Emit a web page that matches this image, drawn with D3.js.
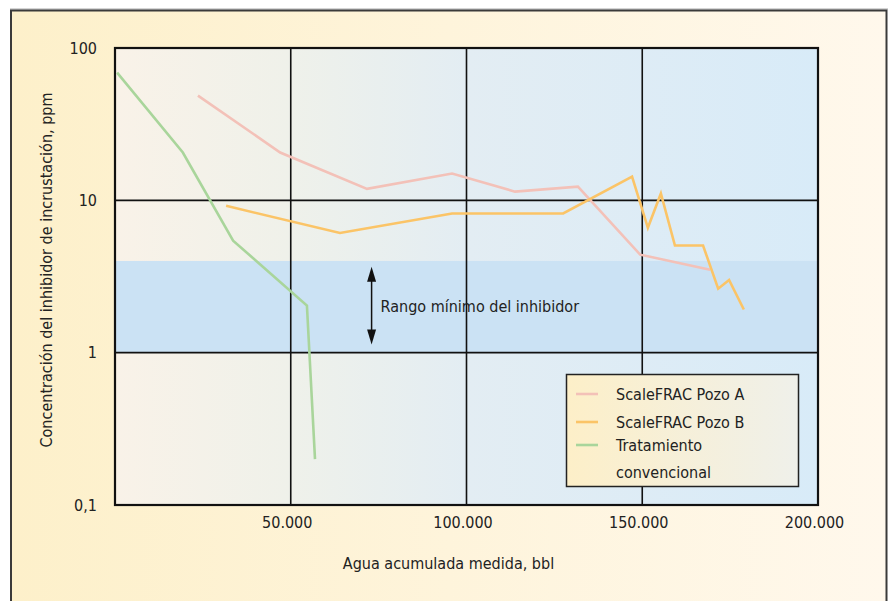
<!DOCTYPE html>
<html><head><meta charset="utf-8">
<script src="https://cdn.jsdelivr.net/npm/d3@7"></script>
<style>
html,body{margin:0;padding:0;background:#fff;}
svg text{font-family:"Liberation Sans Narrow","DejaVu Sans Condensed","Arial Narrow",sans-serif;fill:#222;}
</style></head>
<body><svg id="c" width="892" height="601"></svg>
<script>
// ---- data ----
const pozoA_x = [23600, 47000, 71700, 95900, 113800, 131700, 149400, 169300];
const pozoA_y = [48.7, 20.6, 11.9, 15.0, 11.4, 12.3, 4.4, 3.5];
const pozoB_x = [31600, 64000, 95900, 127500, 147100, 151600, 155300, 159300, 167300, 171600, 174700, 178900];
const pozoB_y = [9.2, 6.1, 8.2, 8.2, 14.3, 6.6, 11.1, 5.05, 5.05, 2.63, 3.0, 1.92];
const conv_x = [600, 19300, 33600, 54600, 56900];
const conv_y = [68.9, 20.6, 5.44, 2.04, 0.2];
const seriesNames = ["ScaleFRAC Pozo A", "ScaleFRAC Pozo B", "Tratamiento convencional"];
const seriesColors = ["#f3c1b8", "#fbc467", "#a9d59b"];
const xTicks = [50000, 100000, 150000, 200000];
const xTickLabels = ["50.000", "100.000", "150.000", "200.000"];
const yTicks = [0.1, 1, 10, 100];
const yTickLabels = ["0,1", "1", "10", "100"];
const bandRange = [1, 4];
const bandLabel = "Rango mínimo del inhibidor";
const arrowX = 73000;
const arrowRange = [3.67, 1.13];
const xTitle = "Agua acumulada medida, bbl";
const yTitle = "Concentración del inhibidor de incrustación, ppm";

// ---- layout ----
const svg = d3.select("#c");
const L = 115, R = 818, T = 48, B = 505;
const x = d3.scaleLinear().domain([0, 200000]).range([L, R]);
const y = d3.scaleLog().domain([0.1, 100]).range([B, T]);

const defs = svg.append("defs");
const g1 = defs.append("linearGradient").attr("id","outerBg");
g1.append("stop").attr("offset","0%").attr("stop-color","#fdf0ca");
g1.append("stop").attr("offset","100%").attr("stop-color","#fff8ec");
const g2 = defs.append("linearGradient").attr("id","plotBg");
g2.append("stop").attr("offset","0%").attr("stop-color","#f9f2e8");
g2.append("stop").attr("offset","25%").attr("stop-color","#eff1ea");
g2.append("stop").attr("offset","50%").attr("stop-color","#e3edf3");
g2.append("stop").attr("offset","100%").attr("stop-color","#d8ebf8");
const g3 = defs.append("linearGradient").attr("id","legBg");
g3.append("stop").attr("offset","0%").attr("stop-color","#fdefc8");
g3.append("stop").attr("offset","100%").attr("stop-color","#eff0ea");

// outer frame
svg.append("rect").attr("x",0).attr("y",0).attr("width",892).attr("height",601).attr("fill","#fff");
svg.append("line").attr("x1",10).attr("x2",888).attr("y1",9).attr("y2",9).attr("stroke","#aaa").attr("stroke-width",1);
svg.append("rect").attr("x",11).attr("y",10.5).attr("width",875.5).attr("height",620)
  .attr("fill","url(#outerBg)").attr("stroke","#3a3a3a").attr("stroke-width",2);

// plot background
svg.append("rect").attr("x",L).attr("y",T).attr("width",R-L).attr("height",B-T).attr("fill","url(#plotBg)");
// band
svg.append("rect").attr("x",L).attr("y",y(bandRange[1])).attr("width",R-L)
  .attr("height",y(bandRange[0])-y(bandRange[1])).attr("fill","#cbe2f4");

// grid
const grid = svg.append("g").attr("stroke","#111").attr("stroke-width",1.6);
xTicks.forEach(v => grid.append("line").attr("x1",x(v)).attr("x2",x(v)).attr("y1",T).attr("y2",B));
yTicks.forEach(v => grid.append("line").attr("x1",L).attr("x2",R).attr("y1",y(v)).attr("y2",y(v)));
svg.append("rect").attr("x",L).attr("y",T).attr("width",R-L).attr("height",B-T)
  .attr("fill","none").attr("stroke","#111").attr("stroke-width",2.2);

// axes labels
const xAxis = d3.axisBottom(x).tickValues(xTicks).tickSize(0).tickPadding(12)
  .tickFormat((d,i)=>xTickLabels[i]);
const gx = svg.append("g").attr("transform",`translate(0,${B})`).call(xAxis);
gx.select(".domain").remove();
gx.selectAll("text").attr("font-size",16).attr("fill","#222").attr("dx",-4)
  .attr("font-family",'"Liberation Sans Narrow","DejaVu Sans Condensed",sans-serif');
const yAxis = d3.axisLeft(y).tickValues(yTicks).tickSize(0).tickPadding(18)
  .tickFormat((d,i)=>yTickLabels[yTicks.indexOf(d)]);
const gy = svg.append("g").attr("transform",`translate(${L},0)`).call(yAxis);
gy.select(".domain").remove();
gy.selectAll("text").attr("font-size",16).attr("fill","#222")
  .attr("font-family",'"Liberation Sans Narrow","DejaVu Sans Condensed",sans-serif');

svg.append("text").attr("x",(L+R)/2 - 18).attr("y",569).attr("text-anchor","middle")
  .attr("font-size",16).text(xTitle);
svg.append("text").attr("transform","translate(52,270) rotate(-90)").attr("text-anchor","middle")
  .attr("font-size",16).text(yTitle);

// lines
const line = d3.line().x(d=>x(d[0])).y(d=>y(d[1]));
const series = [
  d3.zip(pozoA_x, pozoA_y),
  d3.zip(pozoB_x, pozoB_y),
  d3.zip(conv_x, conv_y)
];
[0,2,1].forEach(i => {
  svg.append("path").datum(series[i]).attr("d",line).attr("fill","none")
    .attr("stroke",seriesColors[i]).attr("stroke-width",2.6).attr("stroke-linejoin","miter");
});

// arrow annotation
const ax = x(arrowX), ay1 = y(arrowRange[0]), ay2 = y(arrowRange[1]);
svg.append("line").attr("x1",ax).attr("x2",ax).attr("y1",ay1+10).attr("y2",ay2-10)
  .attr("stroke","#111").attr("stroke-width",1.5);
svg.append("path").attr("d",`M${ax},${ay1} L${ax-4.5},${ay1+15} L${ax+4.5},${ay1+15}Z`).attr("fill","#111");
svg.append("path").attr("d",`M${ax},${ay2} L${ax-4.5},${ay2-15} L${ax+4.5},${ay2-15}Z`).attr("fill","#111");
svg.append("text").attr("x",ax+9).attr("y",(ay1+ay2)/2+6).attr("font-size",16).text(bandLabel);

// legend
const lg = svg.append("g");
lg.append("rect").attr("x",566.5).attr("y",374.5).attr("width",232).attr("height",112)
  .attr("fill","url(#legBg)").attr("stroke","#222").attr("stroke-width",1.5);
const rows = [{t:[seriesNames[0]], y:394},{t:[seriesNames[1]], y:422},{t:["Tratamiento","convencional"], y:445}];
rows.forEach((r,i)=>{
  lg.append("line").attr("x1",576).attr("x2",598).attr("y1",r.y).attr("y2",r.y)
    .attr("stroke",seriesColors[i]).attr("stroke-width",2.6);
  r.t.forEach((s,k)=>{
    lg.append("text").attr("x",616).attr("y",r.y+6+k*27).attr("font-size",16).text(s);
  });
});
</script></body></html>
